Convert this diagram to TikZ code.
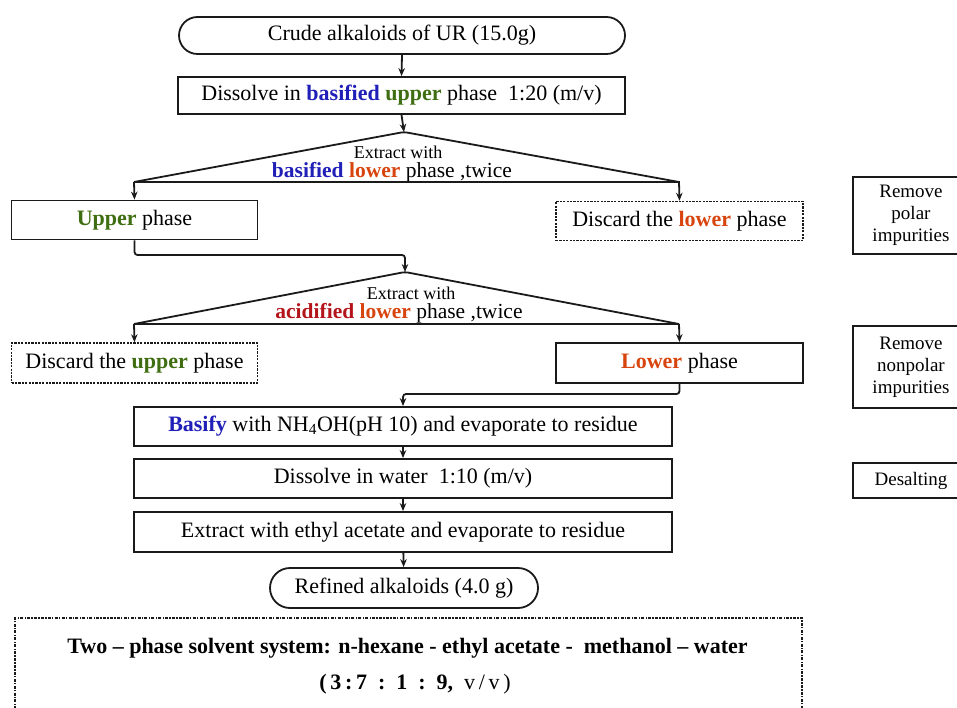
\documentclass[tikz,border=0pt]{standalone}
\usepackage{fontspec}
\setmainfont{Liberation Serif}
\usetikzlibrary{arrows.meta,shapes.misc}
\definecolor{cblue}{HTML}{2020B8}
\definecolor{cgreen}{HTML}{3F6E12}
\definecolor{corange}{HTML}{D8440E}
\definecolor{cred}{HTML}{B3151B}
\definecolor{lineg}{HTML}{1A1A1A}
\newcommand\fsz[2]{\fontsize{#1}{#2}\selectfont}
\newcommand\bw[2]{\textbf{\color{#1}#2}}
\tikzset{
  box/.style={draw=lineg, line width=1.8pt, rectangle, inner sep=0pt, align=center, font=\fsz{22}{26}},
  dbox/.style={box, line width=1.5pt, dash pattern=on 2.2pt off 1.2pt},
  rbox/.style={box, rounded rectangle},
  sidebox/.style={box, font=\fsz{19}{22}, minimum width=116pt},
  conn/.style={draw=lineg, line width=1.8pt, rounded corners=3pt},
  arr/.style={conn, -{Stealth[length=8pt,width=6.5pt]}},
  trilbl/.style={inner sep=0pt, align=center},
}
\begin{document}
\begin{tikzpicture}[x=1pt,y=-1pt]
\useasboundingbox (0,0) rectangle (957,708);
\clip (0,0) rectangle (957,708);

% main column
\node[rbox, minimum width=446pt, minimum height=37pt] (crude) at (402,35.5) {Crude alkaloids of UR (15.0g)};
\node[box, minimum width=447pt, minimum height=37pt] (diss) at (401.5,95.5) {Dissolve in \bw{cblue}{basified} \bw{cgreen}{upper} phase\ \ 1:20 (m/v)};

\coordinate (apexA) at (404,132);
\coordinate (lA) at (134,182);
\coordinate (rA) at (679,182);
\node[trilbl] (tA1) at (398,152) {\fsz{18}{20}Extract with};
\node[trilbl] (tA2) at (392,172) {\fsz{21.5}{24}\bw{cblue}{basified} \bw{corange}{lower} phase ,twice};

\node[box, minimum width=246pt, minimum height=39pt] (upper) at (134.5,220) {\bw{cgreen}{Upper} phase};
\node[dbox, minimum width=247pt, minimum height=39pt] (dlower) at (679.5,221) {Discard the \bw{corange}{lower} phase};

\coordinate (apexB) at (405,272);
\coordinate (lB) at (134,324);
\coordinate (rB) at (679,324);
\node[trilbl] (tB1) at (411,293) {\fsz{18}{20}Extract with};
\node[trilbl] (tB2) at (399,313) {\fsz{21.5}{24}\bw{cred}{acidified} \bw{corange}{lower} phase ,twice};

\node[dbox, minimum width=246pt, minimum height=40pt] (dupper) at (134.5,363) {Discard the \bw{cgreen}{upper} phase};
\node[box, minimum width=247pt, minimum height=40pt] (lower) at (679.5,363) {\bw{corange}{Lower} phase};

\node[box, minimum width=538pt, minimum height=39pt] (basify) at (403,426.5) {\bw{cblue}{Basify} with NH\textsubscript{4}OH(pH 10) and evaporate to residue};
\node[box, minimum width=538pt, minimum height=39pt] (water) at (403,478.5) {Dissolve in water\ \ 1:10 (m/v)};
\node[box, minimum width=538pt, minimum height=40pt] (ethyl) at (403,532) {Extract with ethyl acetate and evaporate to residue};
\node[rbox, minimum width=268pt, minimum height=40pt] (refined) at (404,588) {Refined alkaloids (4.0 g)};

% side notes
\node[sidebox, minimum height=77pt] (polar) at (911,215.5) {Remove\\polar\\impurities};
\node[sidebox, minimum height=82pt] (nonpolar) at (911,367) {Remove\\nonpolar\\impurities};
\node[sidebox, minimum height=35pt] (desalt) at (911,480.5) {Desalting};

% solvent system box
\node[draw=lineg, line width=1.4pt, dash pattern=on 3pt off 1.3pt on 1.3pt off 1.3pt,
      rectangle, minimum width=787pt, minimum height=104pt, inner sep=0pt] (solv) at (408.5,670) {};
\node[inner sep=0pt, font=\fsz{22}{26}\bfseries] (solv1) at (407.5,648) {Two – phase solvent system: n-hexane - ethyl acetate -\ \ methanol – water};
\node[inner sep=0pt, font=\fsz{22}{26}\bfseries] (solv2) at (415,684) {(\,3\,:\,7\ \ :\ \ 1\ \ :\ \ 9,\ \ \mdseries v\,/\,v\,)};

% connectors
\draw[arr] (crude.south) -- (diss.north);
\draw[arr] (diss.south) -- (apexA);
\draw[conn] (lA) -- (apexA) -- (rA);
\draw[conn] (upper.north |- lA) -- (dlower.north |- rA);
\draw[arr] (lA) -- (upper.north);
\draw[arr] (rA) -- (dlower.north);

\draw[arr] (upper.south) |- (405,255) -- (apexB);
\draw[conn] (lB) -- (apexB) -- (rB);
\draw[conn] (lB) -- (rB);
\draw[arr] (lB) -- (dupper.north);
\draw[arr] (rB) -- (lower.north);

\draw[arr] (lower.south) |- (403,394) -- (basify.north);
\draw[arr] (basify) -- (water);
\draw[arr] (water) -- (ethyl);
\draw[arr] (ethyl) -- (refined);
\end{tikzpicture}
\end{document}
